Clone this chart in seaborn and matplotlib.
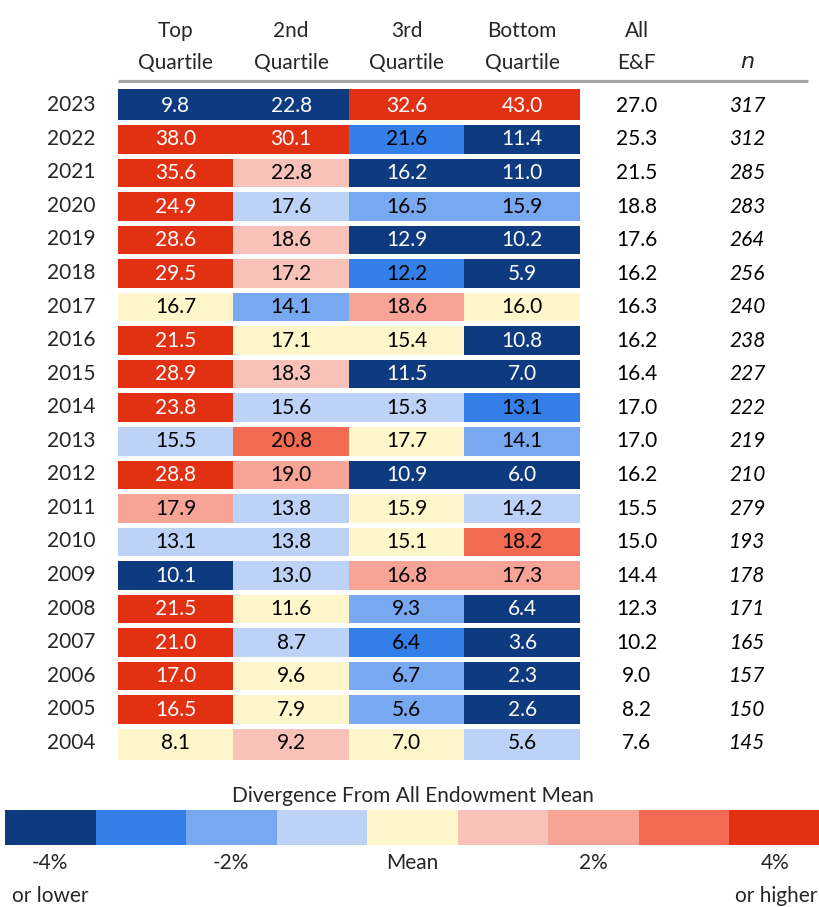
import numpy as np
import pandas as pd
import seaborn as sns
from matplotlib import pyplot as plt
from matplotlib.colors import ListedColormap, BoundaryNorm

years = [2023, 2022, 2021, 2020, 2019, 2018, 2017, 2016, 2015, 2014,
         2013, 2012, 2011, 2010, 2009, 2008, 2007, 2006, 2005, 2004]
top_q = [9.8, 38.0, 35.6, 24.9, 28.6, 29.5, 16.7, 21.5, 28.9, 23.8,
         15.5, 28.8, 17.9, 13.1, 10.1, 21.5, 21.0, 17.0, 16.5, 8.1]
second_q = [22.8, 30.1, 22.8, 17.6, 18.6, 17.2, 14.1, 17.1, 18.3, 15.6,
            20.8, 19.0, 13.8, 13.8, 13.0, 11.6, 8.7, 9.6, 7.9, 9.2]
third_q = [32.6, 21.6, 16.2, 16.5, 12.9, 12.2, 18.6, 15.4, 11.5, 15.3,
           17.7, 10.9, 15.9, 15.1, 16.8, 9.3, 6.4, 6.7, 5.6, 7.0]
bottom_q = [43.0, 11.4, 11.0, 15.9, 10.2, 5.9, 16.0, 10.8, 7.0, 13.1,
            14.1, 6.0, 14.2, 18.2, 17.3, 6.4, 3.6, 2.3, 2.6, 5.6]
all_ef = [27.0, 25.3, 21.5, 18.8, 17.6, 16.2, 16.3, 16.2, 16.4, 17.0,
          17.0, 16.2, 15.5, 15.0, 14.4, 12.3, 10.2, 9.0, 8.2, 7.6]
n_obs = [317, 312, 285, 283, 264, 256, 240, 238, 227, 222,
         219, 210, 279, 193, 178, 171, 165, 157, 150, 145]

col_labels = ["Top\nQuartile", "2nd\nQuartile", "3rd\nQuartile", "Bottom\nQuartile"]
legend_labels = ["-4%", "-2%", "Mean", "2%", "4%"]

colors = ["#0E3A80", "#347EE8", "#77A8F0", "#BCD3F7", "#FFF6CC",
          "#F9C2B9", "#F7A395", "#F36A52", "#E13012"]
edges = [-100, -4.05, -3.05, -2.05, -1.05, 0.95, 1.95, 2.95, 3.95, 100]
cmap = ListedColormap(colors)
norm = BoundaryNorm(edges, cmap.N)

sns.set_theme(style="white")
plt.rcParams["font.family"] = ["Lato", "DejaVu Sans"]
fs = 15

values = pd.DataFrame({"Top": top_q, "2nd": second_q, "3rd": third_q, "Bottom": bottom_q},
                      index=years)
diverg = values.sub(all_ef, axis=0).round(1)

fig = plt.figure(figsize=(8.2, 9.07), dpi=100)
W, H = 820, 907
ax = fig.add_axes([118 / W, 1 - 759.5 / H, 462 / W, 671 / H])
sns.heatmap(diverg, ax=ax, cmap=cmap, norm=norm, cbar=False, linewidths=0)

bins = np.digitize(diverg.values, edges[1:-1])
for i in range(len(years)):
    for j in range(4):
        b = bins[i, j]
        tc = "white" if b in (0, 8) else "black"
        ax.text(j + 0.5, i + 0.52, f"{values.values[i, j]:.1f}", ha="center", va="center",
                fontsize=fs, color=tc)
    ax.text(4.49, i + 0.52, f"{all_ef[i]:.1f}", ha="center", va="center", fontsize=fs,
            color="black", clip_on=False)
    ax.text(5.45, i + 0.52, f"{n_obs[i]}", ha="center", va="center", fontsize=fs,
            style="italic", color="black", clip_on=False)

# white gaps between rows
for i in range(1, len(years)):
    ax.axhline(i, color="white", lw=3.6)

for j, lab in enumerate(col_labels):
    ax.text(j + 0.5, -0.45, lab, ha="center", va="bottom", fontsize=fs,
            linespacing=1.75, clip_on=False)
ax.text(4.49, -0.45, "All\nE&F", ha="center", va="bottom", fontsize=fs,
        linespacing=1.75, clip_on=False)
ax.text(5.45, -0.5, "$n$", ha="center", va="bottom", fontsize=fs + 1, clip_on=False)
ax.plot([0, 5.97], [-0.22, -0.22], color="#A6A6A6", lw=2.3, clip_on=False,
        solid_capstyle="butt")

ax.set_xticks([])
ax.set_yticks(np.arange(len(years)) + 0.5)
ax.set_yticklabels([str(y) for y in years], fontsize=fs, rotation=0)
ax.tick_params(axis="y", length=0, pad=16.5)
ax.set_xlabel("")
ax.set_ylabel("")

# legend bar
lax = fig.add_axes([5 / W, 1 - 845 / H, 815 / W, 35 / H])
legend_vals = pd.DataFrame([[-5.0, -3.5, -2.5, -1.5, 0.0, 1.5, 2.5, 3.5, 5.0]])
sns.heatmap(legend_vals, ax=lax, cmap=cmap, norm=norm, cbar=False, linewidths=0)
lax.set_xticks([0.5, 2.5, 4.5, 6.5, 8.5])
lax.set_xticklabels(legend_labels, fontsize=fs)
lax.set_yticks([])
lax.tick_params(axis="x", length=0, pad=6)
lax.set_title("Divergence From All Endowment Mean", fontsize=fs, pad=6)
fig.text(50 / W, 1 - 896 / H, "or lower", ha="center", va="center", fontsize=fs)
fig.text(817 / W, 1 - 896 / H, "or higher", ha="right", va="center", fontsize=fs)

fig.savefig("out.png", dpi=100)
